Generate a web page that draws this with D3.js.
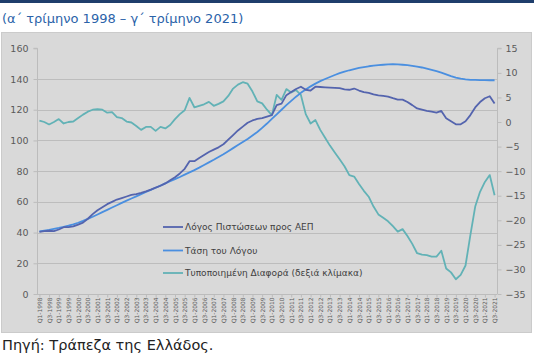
<!DOCTYPE html>
<html>
<head>
<meta charset="utf-8">
<script src="https://cdn.jsdelivr.net/npm/d3@7"></script>
<style>
  html, body { margin: 0; padding: 0; background: #ffffff; }
  svg { display: block; }
</style>
</head>
<body>
<svg id="chart" width="534" height="354"></svg>
<script>
// Quarters Q1-1998 … Q3-2021
const years = d3.range(1998, 2022);
const quarters = [];
years.forEach(y => [1, 2, 3, 4].forEach(q => {
  if (y < 2021 || q <= 3) quarters.push("Q" + q + "-" + y);
}));

// Credit-to-GDP ratio (%), left scale
const creditRatio = [
  40.5, 41, 41.2, 41, 42, 43.5, 43.6, 44, 45.2, 46.5,
  49, 52, 54.5, 56.5, 58.5, 60, 61.5, 62.5, 63.5, 64.5,
  65, 65.8, 66.8, 68, 69.3, 70.5, 72, 74, 76, 78.5,
  81.5, 86.5, 86.5, 88.5, 90.5, 92.5, 94, 95.5, 97.5, 100.5,
  103.5, 106.5, 109, 111.5, 113, 114, 114.5, 115.5, 116.5, 123,
  124, 129.5, 131.5, 133.5, 135, 133, 132.5, 135, 134.8, 134.6,
  134.4, 134.2, 134, 133.2, 133, 133.8, 132.5, 131.5, 131, 130,
  129.4, 129, 128.5, 127.5, 126.6, 126.6, 125, 123, 120.8, 120,
  119.2, 118.7, 118.1, 119.2, 114.5, 112.5, 110.5, 110.5, 112.5, 116.5,
  121.5, 125, 127.5, 128.8, 124
];

// Long-run trend of the ratio (%), left scale
const ratioTrend = [
  40.8, 41.3, 41.8, 42.4, 43, 43.7, 44.5, 45.4, 46.4, 47.6,
  48.9, 50.3, 51.8, 53.3, 54.8, 56.3, 57.8, 59.3, 60.8, 62.2,
  63.6, 65, 66.4, 67.8, 69.2, 70.6, 72, 73.4, 74.8, 76.2,
  77.7, 79.2, 80.7, 82.3, 84, 85.7, 87.4, 89.2, 91, 93,
  95, 97, 99, 101, 103.2, 105.5, 108.2, 111, 114, 117,
  120, 123, 125.8, 128.5, 131, 133.2, 135.2, 137, 138.6, 140,
  141.3, 142.6, 143.8, 144.8, 145.7, 146.5, 147.2, 147.8, 148.3, 148.7,
  149, 149.3, 149.5, 149.6, 149.5, 149.3, 149, 148.6, 148.1, 147.5,
  146.8, 146, 145.1, 144.1, 143, 141.9, 140.9, 140.2, 139.8, 139.5,
  139.4, 139.3, 139.3, 139.2, 139.2
];

// Standardised gap (right scale)
const standardGap = [
  0.3, 0, -0.5, 0, 0.6, -0.3, 0, 0.1, 0.8, 1.5,
  2.1, 2.5, 2.6, 2.5, 1.9, 2.0, 1.0, 0.8, 0.1, -0.1,
  -0.8, -1.6, -1.0, -1.0, -1.8, -1.0, -1.3, -0.6, 0.6, 1.6,
  2.4, 4.9, 3.0, 3.3, 3.6, 4.1, 3.3, 3.7, 4.2, 5.3,
  6.8, 7.6, 8.1, 7.8, 6.2, 4.2, 3.8, 2.5, 1.4, 5.5,
  4.5, 6.7, 6.0, 6.5, 5.5, 1.6, -0.3, 0.4, -1.6, -3.2,
  -4.8, -6.2, -7.6, -9.0, -10.8, -11.1, -12.6, -14.0, -15.2, -17.2,
  -18.8, -19.5, -20.2, -21.2, -22.3, -21.8, -23.2, -24.8, -26.7, -27.0,
  -27.1, -27.4, -27.4, -26.2, -29.8, -30.6, -32.0, -31.1, -29.2, -23.0,
  -17.2, -14.2, -12.2, -10.8, -14.9
];

const leftTicks = [0, 20, 40, 60, 80, 100, 120, 140, 160];
const rightTicks = [15, 10, 5, 0, -5, -10, -15, -20, -25, -30, -35];
const tickQuarters = quarters.filter((q, i) => i % 2 === 0);

const seriesNames = [
  "Λόγος Πιστώσεων προς ΑΕΠ",
  "Τάση του Λόγου",
  "Τυποποιημένη Διαφορά (δεξιά κλίμακα)"
];
const titleText = "(α΄ τρίμηνο 1998 – γ΄ τρίμηνο 2021)";
const sourceText = "Πηγή: Τράπεζα της Ελλάδος.";

const FONT = "'DejaVu Sans', Verdana, sans-serif";
const colors = { ratio: "#5464ae", trend: "#4a8fe0", gap: "#62b2b6" };

const svg = d3.select("#chart");

// header strip and title
svg.append("rect").attr("x", 0).attr("y", 0).attr("width", 534).attr("height", 3).attr("fill", "#1f3e6c");
svg.append("text").attr("x", 2).attr("y", 23)
  .attr("font-family", FONT).attr("font-size", 13).attr("fill", "#2b63a9")
  .text(titleText);

// grey panel
svg.append("rect").attr("x", 1.5).attr("y", 32.5).attr("width", 530).attr("height", 300)
  .attr("fill", "#d9d9d9").attr("stroke", "#cbcbcb");

svg.append("text").attr("x", 2).attr("y", 350)
  .attr("font-family", FONT).attr("font-size", 14.5).attr("fill", "#222222")
  .text(sourceText);

// scales
const x = d3.scalePoint().domain(quarters).range([37, 497]).padding(0.5);
const yL = d3.scaleLinear().domain([0, 160]).range([294, 48.3]);
const yR = d3.scaleLinear().domain([-35, 15]).range([294, 48.3]);

// gridlines
svg.append("g").selectAll("line")
  .data(leftTicks.filter(t => t > 0 && t < 160))
  .join("line")
  .attr("x1", 37).attr("x2", 497)
  .attr("y1", d => Math.round(yL(d)) + 0.5).attr("y2", d => Math.round(yL(d)) + 0.5)
  .attr("stroke", "#bdbdbd").attr("stroke-width", 1);

// axes
const axisColor = "#bcbcbc";
const labelColor = "#595959";

const gL = svg.append("g").attr("transform", "translate(37.5,0)")
  .call(d3.axisLeft(yL).tickValues(leftTicks).tickSize(4).tickPadding(5));
const gR = svg.append("g").attr("transform", "translate(497.5,0)")
  .call(d3.axisRight(yR).tickValues(rightTicks).tickSize(4).tickPadding(4));
const gB = svg.append("g").attr("transform", "translate(0,294.5)")
  .call(d3.axisBottom(x).tickValues(tickQuarters).tickSize(3).tickPadding(2));

[gL, gR, gB].forEach(g => {
  g.select(".domain").attr("stroke", axisColor);
  g.selectAll(".tick line").attr("stroke", axisColor);
  g.selectAll("text").attr("font-family", FONT).attr("fill", labelColor);
});
gL.selectAll("text").attr("font-size", 9.5);
gR.selectAll("text").attr("font-size", 9.5).attr("text-anchor", "start");
gB.select(".domain").attr("d", "M37,0H497");
gL.select(".domain").attr("d", "M-4,48.3H0V294");
gR.select(".domain").attr("d", "M4,48.3H0V294");
gB.selectAll("text")
  .attr("font-size", 5.9)
  .attr("text-anchor", "end")
  .attr("dy", null)
  .attr("transform", "translate(2,3) rotate(-90)")
  .attr("x", 0).attr("y", 0);

// lines
const lineL = d3.line().x((d, i) => x(quarters[i])).y(d => yL(d));
const lineR = d3.line().x((d, i) => x(quarters[i])).y(d => yR(d));

svg.append("path").datum(standardGap).attr("d", lineR)
  .attr("fill", "none").attr("stroke", colors.gap).attr("stroke-width", 1.8).attr("stroke-linejoin", "round");
svg.append("path").datum(ratioTrend).attr("d", lineL)
  .attr("fill", "none").attr("stroke", colors.trend).attr("stroke-width", 1.8).attr("stroke-linejoin", "round");
svg.append("path").datum(creditRatio).attr("d", lineL)
  .attr("fill", "none").attr("stroke", colors.ratio).attr("stroke-width", 1.8).attr("stroke-linejoin", "round");

// legend
const legendItems = [
  { name: seriesNames[0], color: colors.ratio },
  { name: seriesNames[1], color: colors.trend },
  { name: seriesNames[2], color: colors.gap }
];
const legend = svg.append("g").attr("transform", "translate(163,227)");
legendItems.forEach((d, i) => {
  const yy = [0, 23.5, 46][i];
  legend.append("line").attr("x1", 0).attr("x2", 20).attr("y1", yy).attr("y2", yy)
    .attr("stroke", d.color).attr("stroke-width", 1.8);
  legend.append("text").attr("x", 22).attr("y", yy + 3.3)
    .attr("font-family", FONT).attr("font-size", 9).attr("fill", "#404040")
    .text(d.name);
});
</script>
</body>
</html>
